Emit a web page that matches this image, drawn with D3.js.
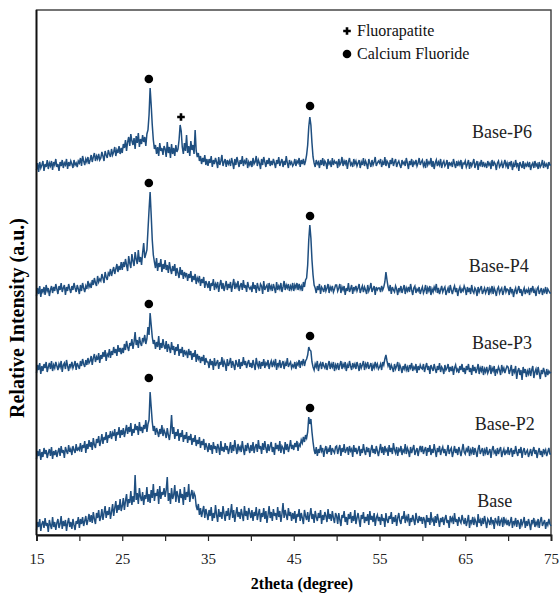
<!doctype html>
<html>
<head>
<meta charset="utf-8">
<script src="https://d3js.org/d3.v7.min.js"></script>
<style>
  body { margin: 0; background: #fff; }
  text { font-family: "Liberation Serif", "Times New Roman", serif; }
</style>
</head>
<body>
<svg id="chart" width="560" height="596"></svg>
<script>
// scan 15 -> 75 deg; each row below is one 5 deg block read every 0.125 deg
var startDeg = 15, blockDeg = 5, stepDeg = 0.125;
var xTicks = [15, 25, 35, 45, 55, 65, 75];

var names = ["Base", "Base-P2", "Base-P3", "Base-P4", "Base-P6"];
// vertical stacking offset of every pattern (a.u.)
var offsets = [3, 73, 158, 235, 360];

var base = [
  [2,10,5,13,1,8,11,4,14,6,9,0,12,7,3,15,5,10,2,9,13,4,8,16,3,11,6,12,1,9,14,5,10,3,13,7,2,11,8,15],
  [4,13,8,15,6,11,16,7,12,18,10,17,9,20,13,8,19,14,22,11,15,23,12,19,26,14,21,17,25,13,20,28,16,24,31,19,27,22,33,21],
  [26,34,22,31,38,25,33,29,41,27,36,30,57,32,39,28,44,35,31,40,27,37,33,45,30,38,29,42,34,48,31,39,36,43,28,46,33,40,37,44],
  [35,42,55,31,39,28,44,33,37,47,30,41,36,29,43,34,38,27,45,32,40,35,48,30,37,42,33,39,36,26,22,28,17,24,15,21,26,14,23,18],
  [12,22,16,25,11,19,14,27,17,10,23,15,20,13,26,18,11,21,16,24,12,19,28,14,22,10,18,25,15,20,13,23,17,11,26,16,21,12,24,19],
  [14,22,11,20,16,25,12,18,23,10,19,15,24,13,21,9,17,26,14,20,11,23,16,19,12,25,15,21,10,18,29,14,22,17,12,24,16,20,11,19],
  [13,21,9,18,15,23,11,19,14,8,22,16,12,20,10,17,24,13,18,9,21,15,11,19,14,22,8,17,12,20,16,10,23,13,18,11,21,14,9,19],
  [16,8,19,12,6,17,14,21,10,15,7,18,13,20,9,16,11,22,8,14,19,12,5,17,13,20,9,15,11,18,7,21,12,16,10,19,6,14,17,11],
  [15,7,18,11,14,5,19,12,9,16,13,20,8,15,10,17,6,14,19,11,8,16,13,21,9,15,12,18,6,14,10,17,12,7,19,13,9,16,11,15],
  [8,15,12,4,17,10,14,7,20,11,13,6,16,9,18,12,5,14,10,15,7,13,17,9,12,4,16,11,14,8,19,10,13,6,15,11,9,17,12,8],
  [14,6,11,17,4,12,9,15,7,13,10,5,18,9,12,6,14,8,16,10,4,13,11,7,15,9,12,3,14,10,8,16,6,11,13,5,15,9,12,7],
  [12,6,10,15,4,11,8,14,5,12,9,3,13,7,10,15,4,11,6,13,8,2,12,9,14,5,10,7,13,4,11,15,6,9,12,3,10,7,13,8],
  [6]];
var baseP2 = [
  [3,11,6,13,2,10,5,14,8,12,4,9,13,6,15,3,11,7,12,5,10,14,6,16,9,12,4,15,11,8,17,10,13,7,16,12,9,18,11,14],
  [12,19,10,17,14,21,9,18,13,22,15,20,12,24,17,14,23,19,26,16,21,28,18,25,22,30,19,27,24,31,23,29,26,33,21,30,27,35,24,32],
  [27,34,25,31,37,28,35,30,39,26,33,29,38,32,36,27,40,31,35,29,37,33,42,30,38,42,70,55,40,31,36,27,34,30,25,33,28,37,26,32],
  [29,24,34,27,22,31,47,28,35,23,30,26,33,21,29,25,32,20,27,23,30,19,26,22,28,17,24,20,27,16,22,18,25,14,21,17,23,12,19,15],
  [10,19,12,17,8,20,13,16,9,18,14,7,21,11,15,10,19,12,16,8,13,20,9,17,11,22,14,8,18,12,15,10,21,13,7,17,11,19,14,9],
  [17,11,20,9,15,18,10,22,13,16,8,19,12,21,14,9,18,11,16,20,10,15,7,19,13,17,11,21,9,16,14,8,20,12,18,10,15,22,13,17],
  [12,19,15,21,11,18,16,22,19,25,20,27,24,30,45,38,43,30,20,12,8,15,6,13,9,17,11,14,5,12,16,8,13,10,17,7,14,11,9,15],
  [16,8,13,17,6,14,10,18,9,12,15,7,16,11,13,5,17,10,14,8,12,16,6,13,9,18,11,7,15,10,14,5,12,17,9,13,8,16,11,6],
  [12,18,9,15,7,16,11,13,6,17,10,14,8,19,12,9,15,6,13,11,16,7,12,10,18,8,14,11,5,15,9,13,17,7,11,14,6,12,16,10],
  [16,8,12,15,6,14,10,17,7,13,9,18,11,5,14,10,16,7,12,15,9,13,6,11,17,8,12,14,5,10,16,9,13,7,15,11,6,12,18,10],
  [8,13,11,16,6,12,9,15,7,14,10,5,13,17,8,11,14,6,12,9,15,7,10,13,4,12,16,9,11,6,14,8,12,15,5,10,13,7,11,9],
  [15,7,11,14,5,12,8,16,10,6,13,9,15,4,11,14,7,10,12,5,9,13,6,11,15,8,12,4,10,14,7,11,5,13,9,12,6,10,14,8],
  [8]];
var baseP3 = [
  [4,12,7,14,3,11,6,13,9,15,5,10,14,8,16,6,12,9,15,11,7,13,10,16,5,12,14,8,17,11,6,13,10,15,9,12,16,7,14,11],
  [8,16,11,18,13,10,17,12,19,14,16,21,12,19,23,15,20,17,24,14,22,18,25,20,27,16,23,21,28,19,26,22,30,24,28,21,32,25,29,23],
  [29,24,33,27,36,30,26,34,31,38,28,35,45,32,37,29,40,34,31,39,36,42,33,38,50,42,64,52,40,33,37,28,35,30,41,27,34,29,38,31],
  [28,36,25,33,29,24,35,27,31,22,30,26,33,21,28,24,30,20,27,23,25,19,28,22,26,17,24,20,27,15,23,18,21,14,20,16,22,12,19,15],
  [15,9,18,12,16,7,19,11,14,17,8,15,12,20,10,16,13,6,18,11,14,19,9,16,12,7,17,13,10,18,8,15,11,20,12,16,9,14,17,10],
  [14,9,17,12,7,19,13,10,16,8,15,11,18,9,14,12,17,8,13,16,10,15,12,18,7,14,11,17,9,13,16,8,14,11,19,10,13,15,9,12],
  [10,15,8,14,12,17,9,16,13,18,11,16,18,22,30,27,26,15,10,7,13,10,16,6,12,14,8,15,11,9,14,7,12,16,8,13,10,15,6,12],
  [9,14,7,12,16,8,13,10,15,6,12,9,16,11,7,14,10,13,8,15,11,6,14,9,12,16,7,13,10,15,8,11,14,6,12,9,15,10,13,8],
  [10,13,7,15,12,18,22,16,11,14,7,12,9,5,13,8,11,15,6,12,9,4,11,8,13,7,10,5,12,9,14,6,10,8,13,4,11,7,12,9],
  [8,13,5,10,14,7,11,3,12,9,6,13,8,4,11,7,14,5,10,8,3,12,7,9,13,5,10,6,11,2,9,12,6,8,4,11,7,13,5,9],
  [3,11,7,13,5,9,2,12,6,10,4,8,13,3,9,6,11,2,8,5,10,4,7,12,3,9,6,11,1,8,5,10,7,2,12,6,9,4,8,11],
  [10,3,7,12,1,8,5,11,-2,6,9,2,7,-3,10,4,8,0,6,3,9,1,7,11,-1,5,8,2,10,4,-2,7,3,9,5,0,8,2,6,4],
  [5]];
var baseP4 = [
  [4,12,6,14,3,11,8,13,5,15,9,12,4,10,14,7,13,9,16,11,6,14,10,17,8,12,15,5,13,9,16,11,7,14,10,17,12,8,15,11],
  [6,15,9,17,12,8,14,11,19,13,16,12,20,15,22,17,14,24,18,21,19,26,22,17,28,23,20,27,25,31,24,29,33,26,31,36,28,34,30,38],
  [30,38,33,41,35,29,44,37,32,46,39,34,48,41,36,50,38,43,35,47,57,42,46,50,70,90,108,85,60,45,38,32,42,29,37,33,41,28,36,31],
  [40,30,35,27,38,31,26,34,29,36,24,32,27,22,33,25,30,21,28,24,27,19,26,22,29,18,24,20,26,16,22,19,24,14,21,17,23,12,19,16],
  [12,19,9,17,14,21,10,16,13,18,8,15,20,11,17,9,14,19,10,16,12,18,8,15,21,11,16,13,19,9,14,17,10,20,12,15,8,18,13,11],
  [13,8,18,11,15,7,17,12,9,16,14,6,19,10,13,15,8,17,11,14,9,16,12,7,18,10,14,11,17,8,13,19,10,15,12,16,9,14,11,17],
  [9,15,12,17,10,16,11,14,9,18,13,20,22,35,60,75,62,40,25,15,12,7,14,10,16,6,13,11,8,15,9,12,16,7,13,10,14,8,11,15],
  [15,9,12,16,7,13,10,14,5,12,9,17,8,11,15,6,13,10,14,9,12,16,7,11,14,8,13,10,6,15,9,12,17,8,11,14,5,13,10,12],
  [12,8,14,10,13,18,28,20,13,9,15,6,13,10,8,14,11,5,12,9,14,7,11,15,6,12,9,13,8,16,10,5,12,14,7,11,9,13,6,10],
  [13,7,10,15,6,12,9,14,5,11,8,13,10,16,7,12,6,10,14,8,11,13,5,9,12,7,15,10,6,11,14,8,12,4,10,13,7,11,9,14],
  [11,5,13,8,12,6,15,9,7,12,10,4,13,8,11,14,6,9,12,7,10,13,5,11,8,14,6,12,9,4,11,13,7,10,12,5,9,14,8,11],
  [10,5,13,8,11,3,9,12,6,10,14,7,11,4,9,12,6,10,8,11,5,12,9,14,7,10,4,11,13,6,9,12,5,10,8,13,6,11,9,7],
  [7]];
var baseP6 = [
  [5,12,3,13,7,10,14,4,11,8,15,6,12,9,14,5,13,10,16,8,11,4,13,9,15,7,12,10,16,6,13,9,14,11,7,15,10,12,8,14],
  [12,17,9,19,14,10,16,13,18,11,15,20,13,18,22,14,19,16,21,15,17,23,19,14,24,20,17,25,21,18,26,20,23,28,19,25,22,29,21,27],
  [22,31,27,35,24,33,38,29,41,34,30,37,26,39,32,42,28,36,31,40,33,38,29,41,45,60,87,70,50,35,26,30,21,28,19,32,24,27,20,29],
  [26,18,33,22,28,17,31,21,27,19,30,23,26,35,50,44,28,21,32,24,40,22,29,19,34,25,30,21,45,24,18,22,14,19,11,17,13,20,10,16],
  [9,16,12,19,8,15,11,17,13,7,18,10,14,20,9,13,16,8,15,11,14,9,17,12,6,16,10,18,13,8,15,11,19,9,14,12,17,7,13,10],
  [14,8,17,11,13,19,9,15,12,6,16,10,18,13,8,15,11,17,9,14,10,16,12,7,15,11,18,9,13,16,8,14,10,19,12,7,15,11,13,9],
  [11,16,9,14,12,17,8,15,11,16,10,14,20,30,48,58,50,32,18,12,8,15,11,13,7,15,10,17,9,14,12,6,16,11,13,8,17,10,14,12],
  [13,7,16,10,12,18,9,14,11,15,6,13,17,10,12,8,16,11,14,9,12,15,7,13,10,17,9,14,11,6,16,12,8,15,10,13,18,9,12,14],
  [12,16,8,13,10,18,9,14,12,7,15,11,17,9,13,16,8,12,14,10,7,15,11,13,9,17,12,6,14,10,16,8,13,11,15,9,12,17,10,13],
  [15,9,12,7,16,10,13,11,17,8,14,6,12,15,9,13,10,16,7,12,14,9,11,15,6,13,10,12,8,16,11,7,14,9,13,10,15,6,12,11],
  [14,8,11,15,6,13,9,12,16,7,11,14,5,12,10,15,8,13,9,11,7,14,10,12,6,15,9,13,11,5,12,14,8,10,13,7,11,15,9,12],
  [6,13,10,14,5,11,8,15,9,12,4,13,10,7,14,6,11,9,12,8,13,5,10,12,7,14,9,11,6,13,8,10,15,7,12,9,11,6,13,10],
  [10]];
var patterns = [base, baseP2, baseP3, baseP4, baseP6];

// phase markers: 2theta and height (a.u.)
var markType = ["c", "c", "p", "c", "c", "c", "c", "c", "c"];
var markDeg  = [28.1, 46.9, 31.85, 28.1, 46.9, 28.1, 46.9, 28.1, 46.9];
var markY    = [456, 429, 418, 352, 319, 231, 199, 157, 127];

var legendNames = ["Fluorapatite", "Calcium Fluoride"];

var svg = d3.select("#chart");
var x = d3.scaleLinear().domain([15, 75]).range([36.5, 551]);
var y = d3.scaleLinear().domain([0, 525]).range([535, 10]);
var blue = "#1f4f80";

// frame
svg.append("rect").attr("x", 36.5).attr("y", 10).attr("width", 514.5).attr("height", 525)
  .attr("fill", "none").attr("stroke", "#3a3a3a").attr("stroke-width", 1.4);

var line = d3.line()
  .x(function(d) { return x(d[0]); })
  .y(function(d) { return y(d[1]); });

patterns.forEach(function(p, k) {
  var pts = [];
  p.forEach(function(row, b) {
    row.forEach(function(v, j) {
      pts.push([startDeg + b * blockDeg + j * stepDeg, v + offsets[k]]);
    });
  });
  svg.append("path")
    .datum(pts)
    .attr("fill", "none").attr("stroke", blue).attr("stroke-width", 1.5)
    .attr("d", line);
});

// left and bottom axes on top of the traces
svg.append("line").attr("x1", 36.5).attr("x2", 36.5).attr("y1", 10).attr("y2", 535)
  .attr("stroke", "#111").attr("stroke-width", 1.8);

var xAxis = svg.append("g").attr("transform", "translate(0,535)")
  .call(d3.axisBottom(x).tickValues(d3.range(15, 76, 5)).tickSize(6).tickFormat(function(d) {
    return xTicks.indexOf(d) >= 0 ? d : "";
  }));
xAxis.select(".domain").attr("stroke", "#111").attr("stroke-width", 1.8);
xAxis.selectAll(".tick line").attr("stroke", "#222").attr("stroke-width", 1.2);
xAxis.selectAll(".tick text").attr("font-family", "'Open Sans', sans-serif")
  .attr("font-size", 15).attr("fill", "#222").attr("dy", "0.95em").attr("y", 15);

svg.append("text").attr("x", 302).attr("y", 589).attr("text-anchor", "middle")
  .attr("font-weight", "bold").attr("font-size", 16).text("2theta (degree)");

svg.append("text").attr("transform", "translate(24,318) rotate(-90)")
  .attr("text-anchor", "middle").attr("font-weight", "bold").attr("font-size", 20)
  .text("Relative Intensity (a.u.)");

// pattern names
var labelAt = [[66.4, 28], [66.1, 105], [65.8, 186], [65.4, 263], [65.8, 397]];
svg.selectAll(".name").data(names).enter().append("text")
  .attr("x", function(d, i) { return x(labelAt[i][0]); })
  .attr("y", function(d, i) { return y(labelAt[i][1]); })
  .attr("font-size", 18).attr("fill", "#222").text(function(d) { return d; });

// markers
var plus = "M-3.8,0H3.8M0,-3.8V3.8";
markDeg.forEach(function(d, i) {
  if (markType[i] === "c") {
    svg.append("circle").attr("cx", x(d)).attr("cy", y(markY[i])).attr("r", 4.3).attr("fill", "#000");
  } else {
    svg.append("path").attr("transform", "translate(" + x(d) + "," + y(markY[i]) + ")")
      .attr("d", plus).attr("stroke", "#000").attr("stroke-width", 2.6);
  }
});

// legend
svg.append("path").attr("transform", "translate(347,31)").attr("d", plus)
  .attr("stroke", "#000").attr("stroke-width", 2.6);
svg.append("circle").attr("cx", 347).attr("cy", 54).attr("r", 4.3).attr("fill", "#000");
svg.selectAll(".leg").data(legendNames).enter().append("text")
  .attr("x", 357).attr("y", function(d, i) { return 36 + i * 23; })
  .attr("font-size", 16).attr("fill", "#111").text(function(d) { return d; });
</script>
</body>
</html>
